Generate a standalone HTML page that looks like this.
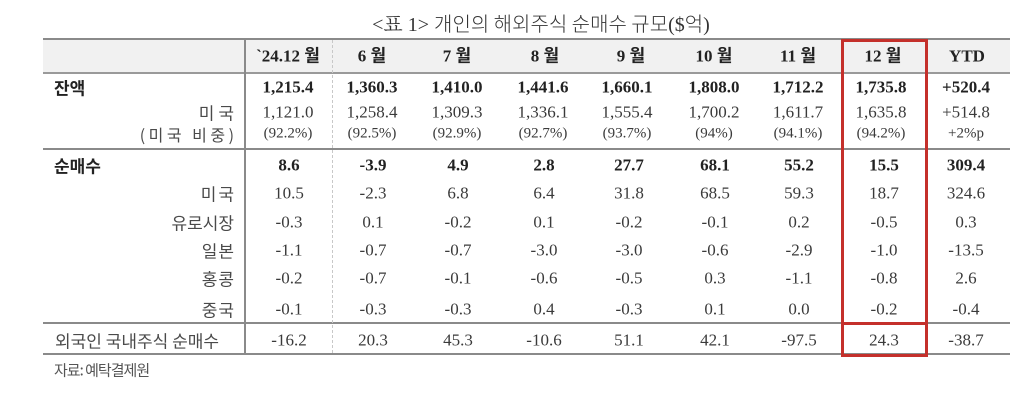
<!DOCTYPE html>
<html>
<head>
<meta charset="utf-8">
<style>
  html,body{margin:0;padding:0;background:#fff;}
  body{width:1024px;height:408px;position:relative;overflow:hidden;
       font-family:"Liberation Serif","Noto Sans CJK KR",serif;color:#3a3a3a;}
  .t{position:absolute;white-space:nowrap;transform:translate(-50%,-50%);font-size:17px;line-height:1;}
  .b{font-weight:bold;color:#222;}
  .p{font-size:15px;}
  .l{position:absolute;white-space:nowrap;transform:translateY(-50%);line-height:1;
     font-family:"Noto Sans CJK KR","Liberation Sans",sans-serif;font-size:17px;color:#4a4a4a;}
  .r{right:790px;}
  .ln{position:absolute;background:#8a8a8a;}
  .red{position:absolute;background:#c4302b;}
</style>
</head>
<body>
<!-- title -->
<div class="t" style="left:541px;top:24px;font-size:20px;color:#333;font-family:'Liberation Serif','Noto Sans CJK KR',serif;"><span style="font-family:'Liberation Serif','Noto Serif CJK SC',serif">&lt;표 1&gt;</span> <span style="font-family:'Noto Sans CJK KR',sans-serif;font-weight:300">개인의 해외주식 순매수 규모</span>($<span style="font-family:'Noto Sans CJK KR',sans-serif;font-weight:300">억</span>)</div>

<!-- header bg -->
<div style="position:absolute;left:43px;top:40px;width:967px;height:32px;background:#f1f1f1;"></div>

<!-- horizontal lines -->
<div class="ln" style="left:43px;top:38px;width:967px;height:2px;"></div>
<div class="ln" style="left:43px;top:72px;width:967px;height:2px;background:#9a9a9a;"></div>
<div class="ln" style="left:43px;top:148px;width:967px;height:2px;"></div>
<div class="ln" style="left:43px;top:322px;width:967px;height:2px;"></div>
<div class="ln" style="left:43px;top:353px;width:967px;height:2px;"></div>

<!-- vertical lines -->
<div class="ln" style="left:244px;top:38px;width:2px;height:317px;"></div>
<div style="position:absolute;left:332px;top:40px;width:0;height:313px;border-left:1px dashed #c8c8c8;"></div>

<!-- red box -->
<div class="red" style="left:841px;top:39px;width:3px;height:318px;"></div>
<div class="red" style="left:925px;top:39px;width:3px;height:318px;"></div>
<div class="red" style="left:841px;top:39px;width:87px;height:3px;"></div>
<div class="red" style="left:841px;top:322px;width:87px;height:3px;"></div>
<div class="red" style="left:841px;top:354px;width:87px;height:3px;"></div>

<!-- header -->
<div class="t b" style="left:288px;top:56px;">`24.12 월</div>
<div class="t b" style="left:372px;top:56px;">6 월</div>
<div class="t b" style="left:457px;top:56px;">7 월</div>
<div class="t b" style="left:545px;top:56px;">8 월</div>
<div class="t b" style="left:631px;top:56px;">9 월</div>
<div class="t b" style="left:714px;top:56px;">10 월</div>
<div class="t b" style="left:798px;top:56px;">11 월</div>
<div class="t b" style="left:883px;top:56px;">12 월</div>
<div class="t b" style="left:967px;top:56px;">YTD</div>

<!-- labels -->
<div class="l" style="left:54px;top:87px;font-weight:bold;color:#222;">잔액</div>
<div class="l r" style="top:112px;letter-spacing:4px;margin-right:-4px;">미국</div>
<div class="l r" style="top:134px;letter-spacing:3.5px;margin-right:-3.5px;font-size:16px;">(미국 비중)</div>
<div class="l" style="left:54px;top:165px;font-weight:bold;color:#222;">순매수</div>
<div class="l r" style="top:193px;letter-spacing:2px;margin-right:-2px;">미국</div>
<div class="l r" style="top:222px;">유로시장</div>
<div class="l r" style="top:250px;letter-spacing:1px;margin-right:-1px;">일본</div>
<div class="l r" style="top:278px;letter-spacing:1px;margin-right:-1px;">홍콩</div>
<div class="l r" style="top:309px;letter-spacing:1px;margin-right:-1px;">중국</div>
<div class="l" style="left:55px;top:340px;">외국인 국내주식 순매수</div>
<div class="l" style="left:54px;top:370px;font-size:15px;letter-spacing:-1px;color:#555;">자료: 예탁결제원</div>

<!-- 잔액 -->
<div class="t b" style="left:288px;top:87px;">1,215.4</div>
<div class="t b" style="left:372px;top:87px;">1,360.3</div>
<div class="t b" style="left:457px;top:87px;">1,410.0</div>
<div class="t b" style="left:543px;top:87px;">1,441.6</div>
<div class="t b" style="left:627px;top:87px;">1,660.1</div>
<div class="t b" style="left:714px;top:87px;">1,808.0</div>
<div class="t b" style="left:798px;top:87px;">1,712.2</div>
<div class="t b" style="left:881px;top:87px;">1,735.8</div>
<div class="t b" style="left:966px;top:87px;">+520.4</div>

<!-- 미국 -->
<div class="t" style="left:288px;top:112px;">1,121.0</div>
<div class="t" style="left:372px;top:112px;">1,258.4</div>
<div class="t" style="left:457px;top:112px;">1,309.3</div>
<div class="t" style="left:543px;top:112px;">1,336.1</div>
<div class="t" style="left:627px;top:112px;">1,555.4</div>
<div class="t" style="left:714px;top:112px;">1,700.2</div>
<div class="t" style="left:798px;top:112px;">1,611.7</div>
<div class="t" style="left:881px;top:112px;">1,635.8</div>
<div class="t" style="left:966px;top:112px;">+514.8</div>

<!-- 비중 -->
<div class="t p" style="left:288px;top:134px;">(92.2%)</div>
<div class="t p" style="left:372px;top:134px;">(92.5%)</div>
<div class="t p" style="left:457px;top:134px;">(92.9%)</div>
<div class="t p" style="left:543px;top:134px;">(92.7%)</div>
<div class="t p" style="left:627px;top:134px;">(93.7%)</div>
<div class="t p" style="left:714px;top:134px;">(94%)</div>
<div class="t p" style="left:798px;top:134px;">(94.1%)</div>
<div class="t p" style="left:881px;top:134px;">(94.2%)</div>
<div class="t p" style="left:966px;top:134px;">+2%p</div>

<!-- 순매수 -->
<div class="t b" style="left:289px;top:165px;">8.6</div>
<div class="t b" style="left:373px;top:165px;">-3.9</div>
<div class="t b" style="left:458px;top:165px;">4.9</div>
<div class="t b" style="left:544px;top:165px;">2.8</div>
<div class="t b" style="left:629px;top:165px;">27.7</div>
<div class="t b" style="left:715px;top:165px;">68.1</div>
<div class="t b" style="left:799px;top:165px;">55.2</div>
<div class="t b" style="left:884px;top:165px;">15.5</div>
<div class="t b" style="left:966px;top:165px;">309.4</div>

<!-- 미국 -->
<div class="t" style="left:289px;top:193px;">10.5</div>
<div class="t" style="left:373px;top:193px;">-2.3</div>
<div class="t" style="left:458px;top:193px;">6.8</div>
<div class="t" style="left:544px;top:193px;">6.4</div>
<div class="t" style="left:629px;top:193px;">31.8</div>
<div class="t" style="left:715px;top:193px;">68.5</div>
<div class="t" style="left:799px;top:193px;">59.3</div>
<div class="t" style="left:884px;top:193px;">18.7</div>
<div class="t" style="left:966px;top:193px;">324.6</div>

<!-- 유로시장 -->
<div class="t" style="left:289px;top:222px;">-0.3</div>
<div class="t" style="left:373px;top:222px;">0.1</div>
<div class="t" style="left:458px;top:222px;">-0.2</div>
<div class="t" style="left:544px;top:222px;">0.1</div>
<div class="t" style="left:629px;top:222px;">-0.2</div>
<div class="t" style="left:715px;top:222px;">-0.1</div>
<div class="t" style="left:799px;top:222px;">0.2</div>
<div class="t" style="left:884px;top:222px;">-0.5</div>
<div class="t" style="left:966px;top:222px;">0.3</div>

<!-- 일본 -->
<div class="t" style="left:289px;top:250px;">-1.1</div>
<div class="t" style="left:373px;top:250px;">-0.7</div>
<div class="t" style="left:458px;top:250px;">-0.7</div>
<div class="t" style="left:544px;top:250px;">-3.0</div>
<div class="t" style="left:629px;top:250px;">-3.0</div>
<div class="t" style="left:715px;top:250px;">-0.6</div>
<div class="t" style="left:799px;top:250px;">-2.9</div>
<div class="t" style="left:884px;top:250px;">-1.0</div>
<div class="t" style="left:966px;top:250px;">-13.5</div>

<!-- 홍콩 -->
<div class="t" style="left:289px;top:278px;">-0.2</div>
<div class="t" style="left:373px;top:278px;">-0.7</div>
<div class="t" style="left:458px;top:278px;">-0.1</div>
<div class="t" style="left:544px;top:278px;">-0.6</div>
<div class="t" style="left:629px;top:278px;">-0.5</div>
<div class="t" style="left:715px;top:278px;">0.3</div>
<div class="t" style="left:799px;top:278px;">-1.1</div>
<div class="t" style="left:884px;top:278px;">-0.8</div>
<div class="t" style="left:966px;top:278px;">2.6</div>

<!-- 중국 -->
<div class="t" style="left:289px;top:309px;">-0.1</div>
<div class="t" style="left:373px;top:309px;">-0.3</div>
<div class="t" style="left:458px;top:309px;">-0.3</div>
<div class="t" style="left:544px;top:309px;">0.4</div>
<div class="t" style="left:629px;top:309px;">-0.3</div>
<div class="t" style="left:715px;top:309px;">0.1</div>
<div class="t" style="left:799px;top:309px;">0.0</div>
<div class="t" style="left:884px;top:309px;">-0.2</div>
<div class="t" style="left:966px;top:309px;">-0.4</div>

<!-- 외국인 -->
<div class="t" style="left:289px;top:340px;">-16.2</div>
<div class="t" style="left:373px;top:340px;">20.3</div>
<div class="t" style="left:458px;top:340px;">45.3</div>
<div class="t" style="left:544px;top:340px;">-10.6</div>
<div class="t" style="left:629px;top:340px;">51.1</div>
<div class="t" style="left:715px;top:340px;">42.1</div>
<div class="t" style="left:799px;top:340px;">-97.5</div>
<div class="t" style="left:884px;top:340px;">24.3</div>
<div class="t" style="left:966px;top:340px;">-38.7</div>
</body>
</html>
